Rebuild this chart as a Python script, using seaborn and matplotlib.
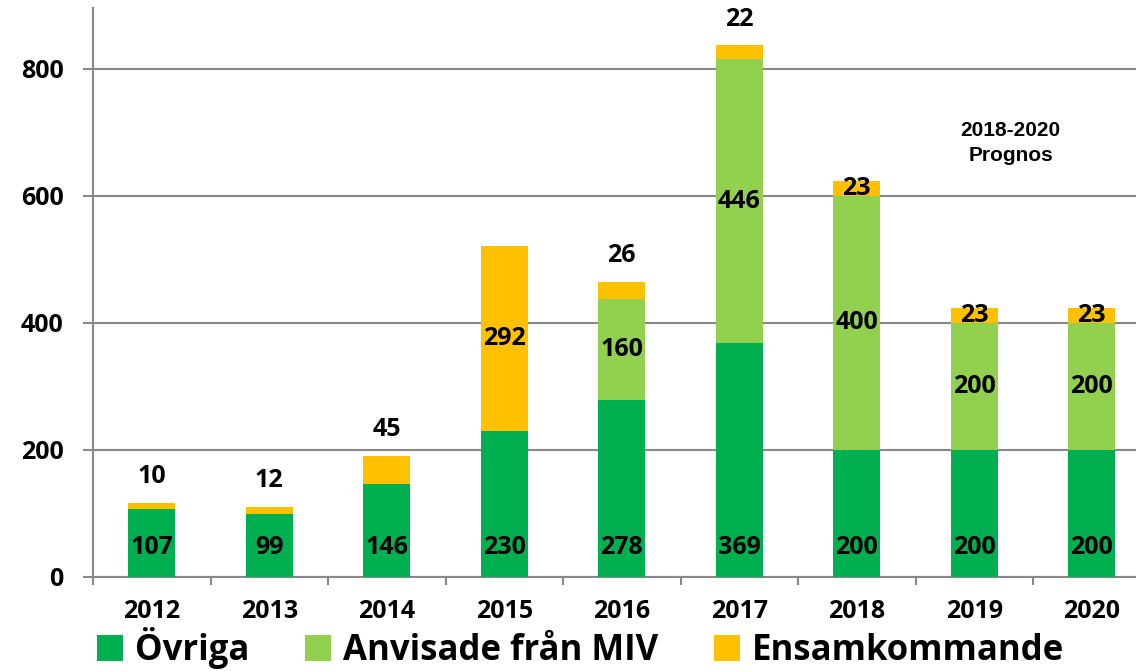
import numpy as np
import pandas as pd
import matplotlib.pyplot as plt
from matplotlib.patches import Patch
import seaborn as sns

# Data
years = ["2012", "2013", "2014", "2015", "2016", "2017", "2018", "2019", "2020"]
ovriga = [107, 99, 146, 230, 278, 369, 200, 200, 200]
anvisade = [0, 0, 0, 0, 160, 446, 400, 200, 200]
ensam = [10, 12, 45, 292, 26, 22, 23, 23, 23]
# where the Ensamkommande label goes: above the bar or inside the segment
ensam_above = [True, True, True, False, True, True, False, False, False]

series_names = ["Övriga", "Anvisade från MIV", "Ensamkommande"]
colors = ["#00B050", "#92D050", "#FFC000"]
GRAY = "#888888"

# Set-up
sns.set_theme(style="whitegrid")
plt.rcParams["font.family"] = ["Open Sans", "DejaVu Sans"]
plt.rcParams["font.weight"] = "bold"
plt.rcParams["text.color"] = "black"

df = pd.DataFrame({"year": years, "ovriga": ovriga, "anvisade": anvisade, "ensam": ensam})
df["mid"] = df["ovriga"] + df["anvisade"]
df["total"] = df["mid"] + df["ensam"]

fig = plt.figure(figsize=(11.36, 6.71), dpi=100)
ax = fig.add_axes([93 / 1136, 1 - 577 / 671, 1057.5 / 1136, 569 / 671])

# stacked bars: draw tallest first
bar_kw = dict(saturation=1, width=0.4, errorbar=None, ax=ax, zorder=3, linewidth=0)
sns.barplot(df, x="year", y="total", color=colors[2], **bar_kw)
sns.barplot(df, x="year", y="mid", color=colors[1], **bar_kw)
sns.barplot(df, x="year", y="ovriga", color=colors[0], **bar_kw)

# Value labels
lab = dict(ha="center", va="center", fontsize=18, fontweight="bold", color="black", zorder=5)
for i in range(len(years)):
    ax.annotate(str(ovriga[i]), (i, 0), xytext=(0, 21.5), textcoords="offset points", **lab)
    if anvisade[i] > 0:
        ax.text(i, ovriga[i] + anvisade[i] / 2, str(anvisade[i]), **lab)
    if ensam_above[i]:
        ax.annotate(str(ensam[i]), (i, df["total"][i]), xytext=(0, 19),
                    textcoords="offset points", **lab)
    else:
        ax.text(i, df["mid"][i] + ensam[i] / 2, str(ensam[i]), **lab)

ax.text(7.31, 684, "2018-2020\nPrognos", ha="center", va="center", fontsize=15,
        fontweight="bold", family=["Liberation Sans"], linespacing=1.4, color="black")

# Axes styling
ax.set_ylim(0, 896)
ax.set_xlim(-0.5, 8.5)
ax.set_yticks([0, 200, 400, 600, 800])
ax.set_xticks(np.arange(-0.5, 9, 1), minor=True)
ax.set(xlabel="", ylabel="")
ax.grid(axis="x", visible=False)
ax.grid(axis="y", color=GRAY, linewidth=1.5, zorder=0)
for side in ["top", "right"]:
    ax.spines[side].set_visible(False)
for side in ["left", "bottom"]:
    ax.spines[side].set_color(GRAY)
    ax.spines[side].set_linewidth(1.5)
ax.tick_params(axis="y", left=True, length=7, width=1.5, color=GRAY, pad=14,
               labelsize=18, labelcolor="black")
ax.tick_params(axis="x", which="major", bottom=True, length=0, pad=16,
               labelsize=18, labelcolor="black")
ax.tick_params(axis="x", which="minor", bottom=True, length=6, width=1.5, color=GRAY)
for t in ax.get_xticklabels() + ax.get_yticklabels():
    t.set_fontweight("bold")

# Legend
handles = [Patch(facecolor=c, edgecolor="none", label=n) for c, n in zip(colors, series_names)]
fig.legend(handles=handles, loc="center", bbox_to_anchor=(0.511, 0.034), ncol=3,
           frameon=False, handlelength=0.75, handleheight=0.75, labelcolor="black",
           handletextpad=0.35, columnspacing=1.6, borderpad=0.1,
           prop={"weight": "bold", "size": 25})

fig.savefig("out.png", dpi=100)
